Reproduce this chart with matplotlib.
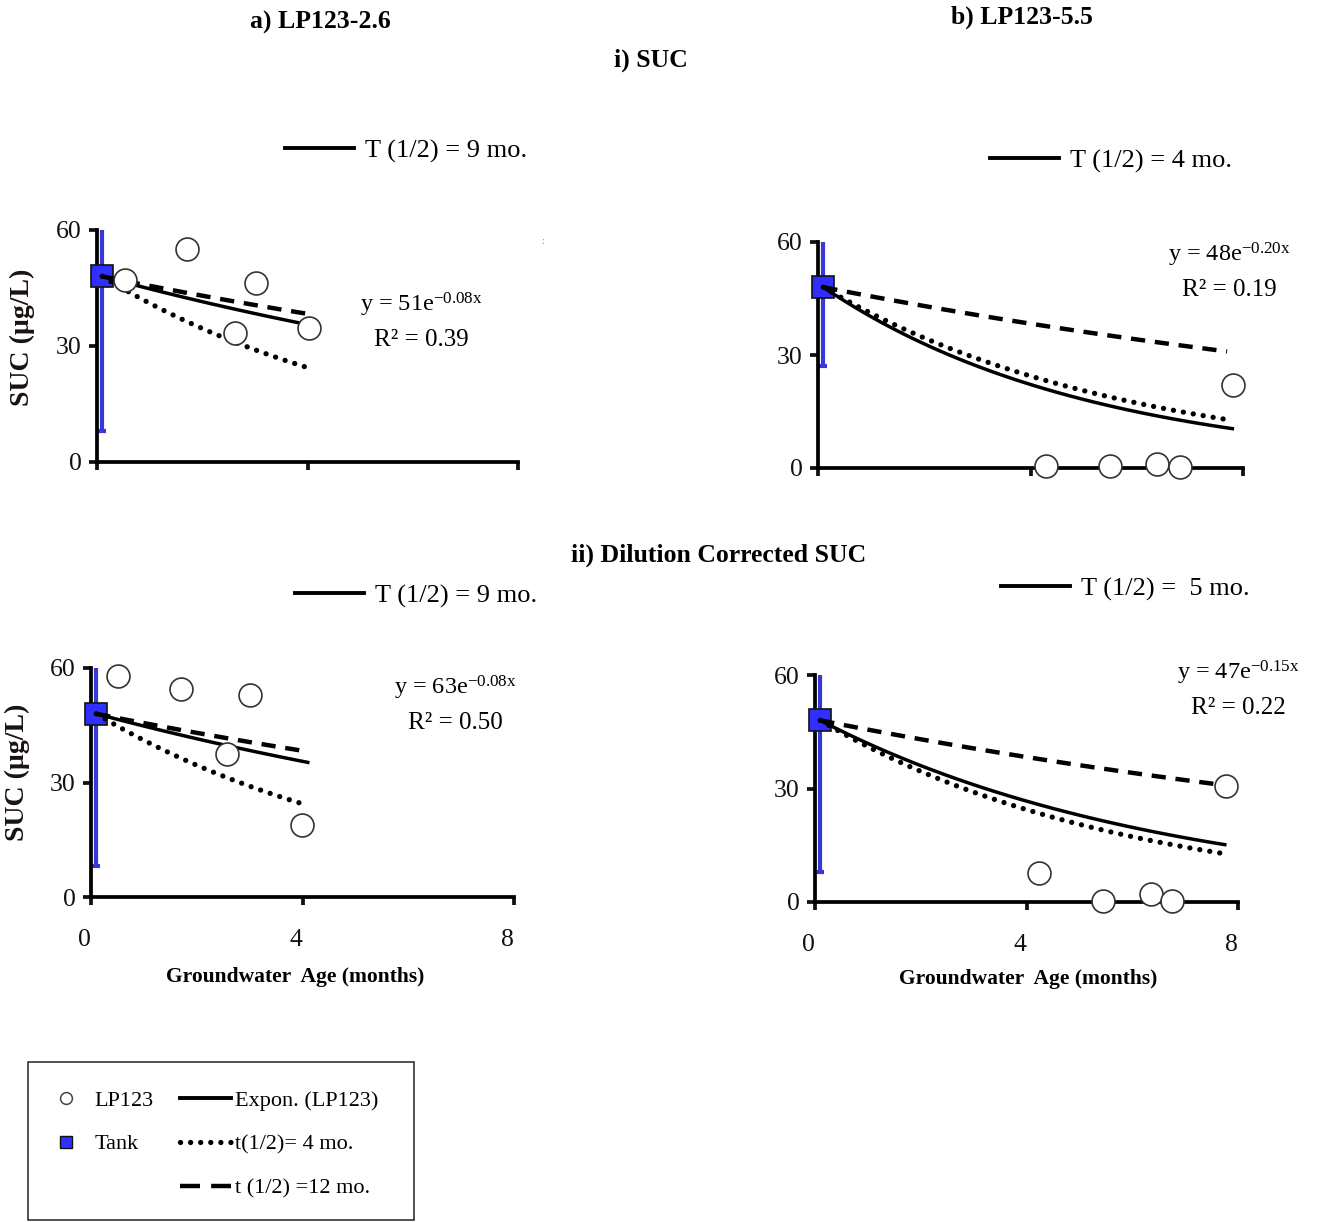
import numpy as np
import matplotlib
matplotlib.use('Agg')
import matplotlib.pyplot as plt
from matplotlib.lines import Line2D
from matplotlib.patches import Rectangle
import matplotlib.transforms as mtransforms

plt.rcParams['font.family'] = ['Liberation Serif', 'DejaVu Serif']
plt.rcParams['mathtext.fontset'] = 'custom'
plt.rcParams['mathtext.rm'] = 'Liberation Serif'
plt.rcParams['mathtext.default'] = 'regular'

# ---------------- data ----------------
panel_names = ['a', 'b', 'c', 'd']
a_age = [0.53, 1.71, 2.62, 3.02, 4.03]
a_suc = [47.1, 55.1, 33.4, 46.3, 34.7]
b_age = [4.29, 5.50, 6.38, 6.82, 7.82]
b_suc = [0.5, 0.5, 1.0, 0.3, 22.0]
c_age = [0.51, 1.70, 3.00, 2.57, 3.99]
c_suc = [57.9, 54.5, 52.9, 37.5, 18.9]
d_age = [4.23, 5.45, 6.36, 6.76, 7.77]
d_suc = [7.7, 0.3, 2.1, 0.3, 30.7]
ages = [a_age, b_age, c_age, d_age]
sucs = [a_suc, b_suc, c_suc, d_suc]

tank_age = 0.1
tank_suc = 48.0
tank_err = [40.0, 21.0, 40.0, 40.0]

fit_c0 = 48.0
fit_half_life = [9.0, 3.5, 9.0, 4.6]
ref_half_lives = [4.0, 12.0]
fit_xmax = [4.1, 7.8, 4.1, 7.75]

eq_amp = ['51', '48', '63', '47']
eq_rate = ['0.08', '0.20', '0.08', '0.15']
eq_r2 = ['0.39', '0.19', '0.50', '0.22']
half_life_text = ['T (1/2) = 9 mo.', 'T (1/2) = 4 mo.', 'T (1/2) = 9 mo.', 'T (1/2) =  5 mo.']

x_ticks = [0, 4, 8]
y_ticks = [0, 30, 60]

# ---------------- layout (pixels) ----------------
W, H = 1319, 1222
fig = plt.figure(figsize=(W / 100, H / 100), dpi=100)

ax_px = [(97, 518, 230, 462), (818, 1243, 242, 468), (91, 514, 668, 897), (815, 1238, 675, 902)]
eq_px = [(421, 305, 340), (1229, 255, 290), (455, 688, 723), (1238, 673, 708)]
hl_px = [(285, 151), (990, 161), (295, 596), (1001, 589)]

def fx(px):
    return px / W

def fy(py):
    return 1 - py / H

SPW = 2.7
for i in range(4):
    x0, x1, yt, yb = ax_px[i]
    ax = fig.add_axes([fx(x0), fy(yb), (x1 - x0) / W, (yb - yt) / H])
    ax.set_xlim(0, 8)
    ax.set_ylim(0, 60)
    ax.set_xticks(x_ticks)
    ax.set_yticks(y_ticks)
    for s in ['top', 'right']:
        ax.spines[s].set_visible(False)
    for s in ['left', 'bottom']:
        ax.spines[s].set_linewidth(SPW)
    ax.tick_params(width=SPW, length=6, direction='out', labelsize=18.5, pad=5, colors='#111111')
    if i < 2:
        ax.tick_params(axis='x', labelbottom=False)
    else:
        ax.tick_params(axis='x', pad=17)
        off = mtransforms.ScaledTranslation(-7 / 100, 0, fig.dpi_scale_trans)
        for lab in ax.get_xticklabels():
            lab.set_transform(lab.get_transform() + off)

    # tank error bar and marker
    ax.errorbar([tank_age], [tank_suc], yerr=[[tank_err[i]], [tank_err[i]]], fmt='none',
                ecolor='#3838d8', elinewidth=3, capsize=3, capthick=3, zorder=2)
    ax.plot([tank_age], [tank_suc], marker='s', ms=16, mfc='#2f2fff', mec='#111111', mew=1.2,
            ls='none', zorder=3, clip_on=False)

    xm = fit_xmax[i]
    xs = np.linspace(tank_age, xm, 120)
    ax.plot(xs, fit_c0 * 0.5 ** ((xs - tank_age) / fit_half_life[i]), color='black', lw=2.5, zorder=5)
    xs4 = np.linspace(tank_age, xm - 0.05, 120)
    ax.plot(xs4, fit_c0 * 0.5 ** ((xs4 - tank_age) / ref_half_lives[0]), color='black', lw=3.8,
            ls=(0, (0.01, 1.9)), dash_capstyle='round', zorder=4)
    xs12 = np.linspace(tank_age, xm - 0.1, 120)
    ax.plot(xs12, fit_c0 * 0.5 ** ((xs12 - tank_age) / ref_half_lives[1]), color='black', lw=3.2,
            ls=(0, (3.2, 2.2)), zorder=4)

    ax.plot(ages[i], sucs[i], ls='none', marker='o', ms=16.5, mfc='white', mec='#333333', mew=1.2,
            zorder=6, clip_on=False)

    # equation text
    ex, ey1, ey2 = eq_px[i]
    fig.text(fx(ex), fy(ey1), r'y = %se$^{-%sx}$' % (eq_amp[i], eq_rate[i]), ha='center', va='center',
             fontsize=17.5)
    fig.text(fx(ex), fy(ey2), 'R\u00b2 = %s' % eq_r2[i], ha='center', va='center', fontsize=18)

    # half-life legend
    hx, hy = hl_px[i]
    fig.legend(handles=[Line2D([], [], color='black', lw=2.8)], labels=[half_life_text[i]],
               loc='center left', bbox_to_anchor=(fx(hx), fy(hy)), frameon=False,
               fontsize=19, handlelength=2.6, handletextpad=0.45, borderpad=0, borderaxespad=0)

# titles
fig.text(fx(320), fy(22), 'a) LP123-2.6', ha='center', va='center', fontsize=18.5, fontweight='bold')
fig.text(fx(1022), fy(17), 'b) LP123-5.5', ha='center', va='center', fontsize=18.5, fontweight='bold')
fig.text(fx(651), fy(60), 'i) SUC', ha='center', va='center', fontsize=18.5, fontweight='bold')
fig.text(fx(719), fy(555), 'ii) Dilution Corrected SUC', ha='center', va='center', fontsize=18.5,
         fontweight='bold')
fig.text(fx(543), fy(241), ':', ha='center', va='center', fontsize=7, color='#7080a8')

# axis labels
for (lx, ly) in [(22, 337), (17, 772)]:
    fig.text(fx(lx), fy(ly), 'SUC (\u00b5g/L)', rotation=90, ha='center', va='center', fontsize=20,
             fontweight='bold', color='#1a1210')
for (lx, ly) in [(295, 977), (1028, 979)]:
    fig.text(fx(lx), fy(ly), 'Groundwater  Age (months)', ha='center', va='center', fontsize=15.5,
             fontweight='bold')

# bottom legend box
fig.patches.append(Rectangle((fx(28), fy(1220)), (414 - 28) / W, (1220 - 1062) / H, transform=fig.transFigure,
                             fill=False, edgecolor='#333333', lw=1.2))
handles = [
    Line2D([], [], ls='none', marker='o', ms=8.5, mfc='white', mec='#444444', mew=1.1),
    Line2D([], [], ls='none', marker='s', ms=8.5, mfc='#2f2fff', mec='#111111', mew=1.0),
    Line2D([], [], ls='none'),
    Line2D([], [], color='black', lw=2.8),
    Line2D([], [], color='black', lw=3.8, ls=(0, (0.01, 1.9)), dash_capstyle='round'),
    Line2D([], [], color='black', lw=3.2, ls=(0, (4.5, 2.5))),
]
labels = ['LP123', 'Tank', '', 'Expon. (LP123)', 't(1/2)= 4 mo.', 't (1/2) =12 mo.']
fig.legend(handles=handles, labels=labels, ncol=2, loc='upper left', bbox_to_anchor=(fx(40), fy(1090)),
           frameon=False, fontsize=16, handlelength=2.3, handletextpad=0.15, columnspacing=1.2,
           labelspacing=1.05, borderpad=0, borderaxespad=0)

fig.savefig('out.png', dpi=100)
